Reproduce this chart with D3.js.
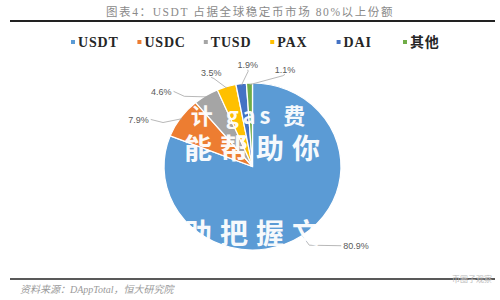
<!DOCTYPE html>
<html><head><meta charset="utf-8">
<script src="https://cdn.jsdelivr.net/npm/d3@7/dist/d3.min.js"></script>
<style>body{margin:0;background:#fff}svg{display:block}</style>
</head><body><svg id="c" width="500" height="300"></svg>
<script>
const categories = ["USDT","USDC","TUSD","PAX","DAI","其他"];
const shares = [80.9, 7.9, 4.6, 3.5, 1.9, 1.1];
const labels = ["80.9%","7.9%","4.6%","3.5%","1.9%","1.1%"];
const colors = ["#5B9BD5","#ED7D31","#A5A5A5","#FFC000","#4472C4","#70AD47"];
const titleText = "图表4：USDT 占据全球稳定币市场 80%以上份额";
const sourceText = "资料来源：DAppTotal，恒大研究院";
const watermarkLines = ["计 gas 费","能帮助你","助把握文"];

const svg = d3.select("#c");
const W = 500;
const serif = "'Liberation Serif','Noto Sans CJK SC',serif";

// title
svg.append("text").attr("x", W/2).attr("y", 16).attr("text-anchor","middle")
  .attr("font-family", serif).attr("font-size", 11.5).attr("fill","#8a8a8a")
  .attr("letter-spacing", 1.6).text(titleText);
svg.append("line").attr("x1",10).attr("x2",495).attr("y1",21).attr("y2",21)
  .attr("stroke","#222").attr("stroke-width",2.2);

// legend
const legX = d3.scalePoint().domain(categories).range([73, 405]);
const leg = svg.append("g").selectAll("g").data(categories).join("g")
  .attr("transform", d => `translate(${legX(d)},42)`);
leg.append("rect").attr("x",-2).attr("y",-2).attr("width",4).attr("height",4)
  .attr("fill",(d,i)=>colors[i]);
leg.append("text").attr("x",5).attr("dy","0.35em")
  .attr("font-family", serif).attr("font-weight","bold").attr("font-size",14)
  .attr("letter-spacing",0.8).attr("fill","#262626").text(d=>d);

// pie
const cx = 252.5, cy = 166.5, ry = 83.5, sx = 88.5/83.5;
const pie = d3.pie().sort(null).value(d=>d)(shares);
const arc = d3.arc().innerRadius(0).outerRadius(ry);
const g = svg.append("g").attr("transform",`translate(${cx},${cy}) scale(${sx},1)`);
g.selectAll("path").data(pie).join("path").attr("d", arc)
  .attr("fill",(d,i)=>colors[i]).attr("stroke","#fff").attr("stroke-width",1.2);

// label layout: spread small-slice labels angularly
const mids = pie.map(d => (d.startAngle + d.endAngle)/2);
const small = d3.range(1, pie.length);
const ang = mids.slice();
const gap = 20 * Math.PI/180;
for (let it = 0; it < 200; it++) {
  for (let j = 1; j < small.length; j++) {
    const a = small[j-1], b = small[j];
    const d = ang[b] - ang[a];
    if (d < gap) { const p = (gap - d)/2; ang[a] -= p; ang[b] += p; }
  }
}
const k = 1.22;
const pt = (a, f) => [cx + Math.sin(a)*ry*sx*f, cy - Math.cos(a)*ry*f];
const lab = svg.append("g");
pie.forEach((d,i) => {
  const big = (d.endAngle - d.startAngle) > Math.PI;
  const a = ang[i];
  const s = Math.sin(a);
  const side = Math.abs(s) < 0.5 ? 0 : (s > 0 ? 1 : -1);
  const [lx, ly0] = pt(a, k);
  const ly = big ? ly0 - 5 : ly0;
  const off = big ? 30 : 8;
  const tx = lx + side*off;
  const anchor = side === 0 ? "middle" : (side > 0 ? "start" : "end");
  const p0 = pt(mids[i], 0.98), p1 = pt(a, k - 0.08);
  const lineEnd = side === 0 ? [lx, ly + 5] : [tx - side*2, ly];
  lab.append("polyline").attr("points",[p0,p1,lineEnd].map(p=>p.join(",")).join(" "))
    .attr("fill","none").attr("stroke","#a6a6a6").attr("stroke-width",0.8);
  lab.append("text").attr("x", tx).attr("y", ly).attr("dy","0.35em")
    .attr("text-anchor", anchor).attr("font-family","'Liberation Sans',sans-serif")
    .attr("font-size",9).attr("fill","#595959").text(labels[i]);
});

// watermark overlay
const wmY = d3.scaleOrdinal().domain(watermarkLines).range([116, 149, 234]);
const wmX = d3.scaleOrdinal().domain(watermarkLines).range([250, 256, 256]);
svg.append("g").selectAll("text").data(watermarkLines).join("text")
  .attr("x", d=>wmX(d)).attr("y", d=>wmY(d)).attr("dy","0.35em")
  .attr("text-anchor","middle").attr("font-family","'Noto Sans CJK SC'")
  .attr("font-weight","bold").attr("font-size", (d,i)=> i===0 ? 22 : 28)
  .attr("letter-spacing", (d,i)=> i===0 ? 4 : 8).attr("fill","#fff").attr("opacity",0.95)
  .text(d=>d);

// bottom rule and source
svg.append("line").attr("x1",10).attr("x2",495).attr("y1",279).attr("y2",279)
  .attr("stroke","#222").attr("stroke-width",1.6);
svg.append("text").attr("x",20).attr("y",293).attr("font-family",serif)
  .attr("font-style","italic").attr("font-size",10).attr("fill","#9a9a9a").text(sourceText);
svg.append("text").attr("x",492).attr("y",282).attr("text-anchor","end")
  .attr("font-family","'Noto Sans CJK SC'").attr("font-size",8).attr("fill","#bbb").text("币圈子观察");
</script></body></html>
